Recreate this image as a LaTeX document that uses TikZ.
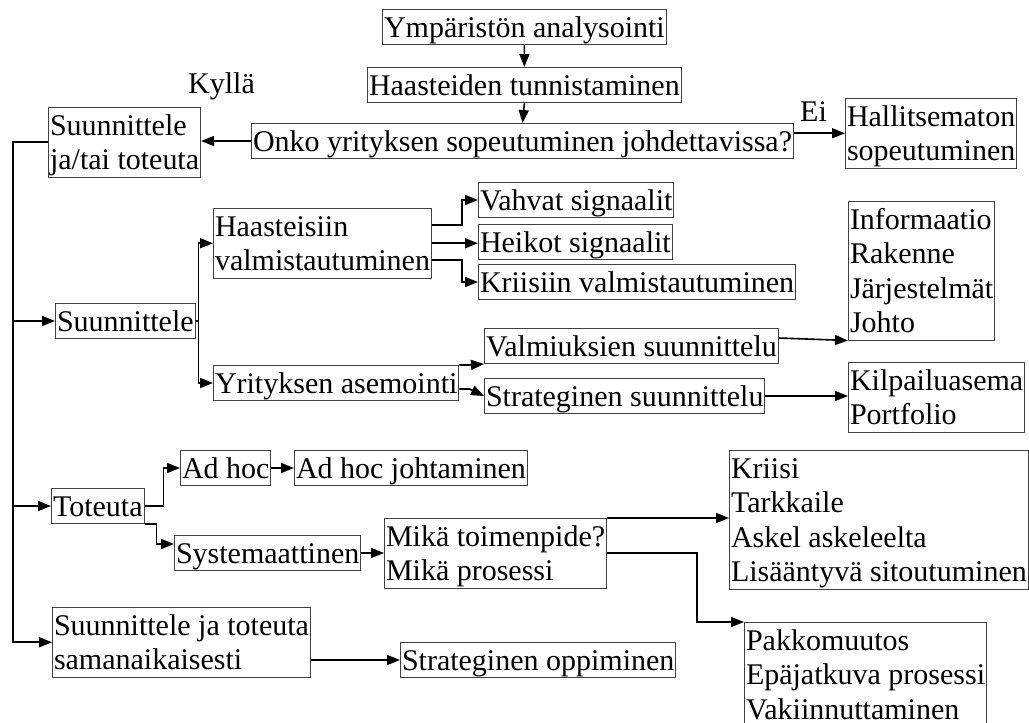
\documentclass[tikz,border=0pt]{standalone}
\usepackage{fontspec}
\setmainfont{Liberation Serif}
\usetikzlibrary{arrows.meta,calc}
\newcommand\ms{\rule[-7pt]{0pt}{34.5pt}}
\begin{document}
\begin{tikzpicture}[x=1pt,y=-1pt,
  box/.style={draw=black!75, line width=1pt, inner xsep=1.5pt, inner ysep=0.25pt, align=left, anchor=north west, font=\fontsize{30}{34.5}\selectfont},
  lbl/.style={inner sep=0pt, anchor=base west, font=\fontsize{30}{34.5}\selectfont},
  conn/.style={line width=1.6pt, -{Triangle[length=13pt,width=10pt]}},
  plain/.style={line width=1.6pt}]
\useasboundingbox (0,0) rectangle (1029,723);
\fill[white] (0,0) rectangle (1029,723);
\node[box] (ymp) at (382,9) {\ms Ympäristön analysointi};
\node[box] (haa) at (367,67) {\ms Haasteiden tunnistaminen};
\node[box] (onko) at (251,123) {\ms Onko yrityksen sopeutuminen johdettavissa?};
\node[box] (sjt) at (48,107) {\ms Suunnittele\\\ms ja/tai toteuta};
\node[lbl] (kyl) at (188,93) {Kyllä};
\node[lbl] (ei) at (800,121) {Ei};
\node[box] (hal) at (845,98) {\ms Hallitsematon\\\ms sopeutuminen};
\node[box] (suun) at (55,303) {\ms Suunnittele};
\node[box] (hv) at (213,208) {\ms Haasteisiin\\\ms valmistautuminen};
\node[box] (yr) at (213,365) {\ms Yrityksen asemointi};
\node[box] (vah) at (478,182) {\ms Vahvat signaalit};
\node[box] (hei) at (478,224) {\ms Heikot signaalit};
\node[box] (kri) at (478,264) {\ms Kriisiin valmistautuminen};
\node[box] (val) at (484,328) {\ms Valmiuksien suunnittelu};
\node[box] (str) at (484,378) {\ms Strateginen suunnittelu};
\node[box] (info) at (848,201) {\ms Informaatio\\\ms Rakenne\\\ms Järjestelmät\\\ms Johto};
\node[box] (kil) at (848,362) {\ms Kilpailuasema\\\ms Portfolio};
\node[box] (tot) at (51,488) {\ms Toteuta};
\node[box] (adh) at (180,450) {\ms Ad hoc};
\node[box] (adj) at (294,450) {\ms Ad hoc johtaminen};
\node[box] (sys) at (174,535) {\ms Systemaattinen};
\node[box] (mika) at (384,518) {\ms Mikä toimenpide?\\\ms Mikä prosessi};
\node[box] (kr) at (729,450) {\ms Kriisi\\\ms Tarkkaile\\\ms Askel askeleelta\\\ms Lisääntyvä sitoutuminen};
\node[box] (pak) at (744,622) {\ms Pakkomuutos\\\ms Epäjatkuva prosessi\\\ms Vakiinnuttaminen};
\node[box] (sjts) at (52,607) {\ms Suunnittele ja toteuta\\\ms samanaikaisesti};
\node[box] (sop) at (400,642) {\ms Strateginen oppiminen};
\coordinate (spine) at (13,141);
\coordinate (mp) at (697,0);
\draw[conn] (ymp.south) -- (haa.north);
\draw[conn] (haa.south) -- (onko.north);
\draw[conn] (onko.east |- hal.west) -- (hal.west);
\draw[conn] (onko.west) -- (onko.west -| sjt.east);
\draw[conn] (sjt.west) -- (sjt.west -| spine) |- (sjts.west);
\draw[conn] (suun.west -| spine) -- (suun.west);
\draw[conn] (tot.west -| spine) -- (tot.west);
\draw[conn] (suun.east) -- ++(3,0) |- (hv.west);
\draw[conn] (suun.east) -- ++(3,0) |- (yr.west);
\draw[conn] ($(hv.east)+(0,-18)$) -- ++(30,0) |- (vah.west);
\draw[conn] (hv.east) -- (hv.east -| hei.west);
\draw[conn] ($(hv.east)+(0,17)$) -- ++(30,0) |- (kri.west);
\draw[conn] (yr.north east) -- ++(10,0) -- (val.south west);
\draw[conn] ($(yr.east)+(0,6)$) -- ++(10,0) -- (str.west);
\draw[conn] ($(val.east)+(0,-8)$) -- (info.south west);
\draw[conn] (str.east) -- (str.east -| kil.west);
\draw[conn] (tot.east) -- ++(19,0) |- (adh.west);
\draw[conn] (tot.south east) -- ++(12,0) |- ($(sys.west)+(0,-9)$);
\draw[conn] (adh.east) -- (adj.west);
\draw[conn] (sys.east) -- (sys.east -| mika.west);
\draw[conn] (mika.north east) -- (mika.north east -| kr.west);
\draw[conn] (mika.east) -- (mika.east -| mp) |- (pak.north west);
\draw[conn] (sop.west -| sjts.east) -- (sop.west);
\end{tikzpicture}
\end{document}
